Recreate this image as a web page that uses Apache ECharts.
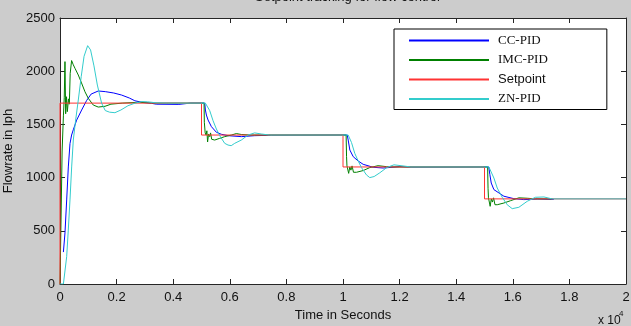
<!DOCTYPE html>
<html>
<head>
<meta charset="utf-8">
<script src="https://cdn.jsdelivr.net/npm/echarts@6/dist/echarts.min.js"></script>
<style>
  html, body { margin: 0; padding: 0; background: #cccccc; }
  #chart { width: 631px; height: 326px; }
</style>
</head>
<body>
<div id="chart"></div>
<script>
// time in seconds, flowrate in lph
const seriesNames = ['CC-PID', 'IMC-PID', 'Setpoint', 'ZN-PID'];
const seriesColors = ['#0000ff', '#008000', '#ff3333', '#33cccc'];

const ccPid = [
    [120, 300], [176, 480], [236, 790], [294, 1100], [353, 1320], [410, 1400], [470, 1450],
    [588, 1540], [765, 1635], [941, 1725], [1100, 1785], [1352, 1814], [1600, 1808],
    [1900, 1795], [2175, 1776], [2450, 1748], [2645, 1722], [2900, 1708], [3233, 1698],
    [3400, 1690], [4200, 1688], [4600, 1700], [5115, 1700],
    [5138, 1635], [5173, 1588], [5232, 1541], [5350, 1479], [5526, 1426], [5703, 1407],
    [5937, 1394], [6408, 1385], [6878, 1394], [7467, 1398], [10150, 1400],
    [10183, 1353], [10242, 1259], [10360, 1197], [10536, 1156], [10712, 1125], [11065, 1097],
    [11417, 1090], [12003, 1103], [12474, 1098], [15150, 1100],
    [15190, 1027], [15238, 949], [15332, 887], [15508, 856], [15685, 825], [16038, 802],
    [16390, 793], [16860, 799], [17450, 795]
];

const imcPid = [
    [0, 0], [70, 0], [75, 1250], [120, 1580], [150, 1750], [176, 2090], [200, 1600],
    [230, 1760], [260, 1620], [300, 1740], [330, 1690], [360, 1980], [410, 2100],
    [470, 2060], [530, 2027], [646, 1964], [760, 1890], [882, 1807], [1000, 1745],
    [1176, 1682], [1352, 1663], [1590, 1670], [1800, 1690], [2200, 1700], [2800, 1708],
    [3000, 1704], [3300, 1700], [5090, 1700],
    [5100, 1520], [5130, 1420], [5160, 1400], [5190, 1440], [5215, 1335], [5250, 1410],
    [5290, 1385], [5320, 1420], [5360, 1360], [5467, 1353], [5644, 1369], [5820, 1385],
    [6055, 1400], [6232, 1414], [6408, 1405], [6700, 1400], [10110, 1400],
    [10125, 1200], [10140, 1110], [10170, 1120], [10200, 1040], [10240, 1100], [10280, 1070],
    [10320, 1110], [10370, 1050], [10476, 1050], [10712, 1066], [10946, 1094], [11240, 1112],
    [11535, 1103], [11800, 1100], [15110, 1100],
    [15125, 900], [15140, 810], [15170, 820], [15200, 730], [15240, 800], [15280, 770],
    [15320, 810], [15370, 745], [15450, 745], [15685, 761], [15920, 783], [16214, 810],
    [16508, 806], [16800, 800], [17400, 800]
];

const setpoint = [
    [0, 0], [0, 1700], [5000, 1700], [5000, 1400], [10000, 1400], [10000, 1100],
    [15000, 1100], [15000, 800], [20000, 800]
];

const znPid = [
    [0, 0], [120, 0], [236, 257], [293, 507], [353, 790], [412, 1100], [470, 1353],
    [553, 1541], [646, 1729], [750, 1950], [850, 2140], [977, 2240], [1080, 2200],
    [1200, 2050], [1320, 1870], [1470, 1700], [1600, 1630], [1750, 1615], [1940, 1610],
    [2150, 1635], [2400, 1675], [2650, 1700], [2900, 1715], [3100, 1712], [3400, 1703],
    [3800, 1700], [5137, 1700],
    [5291, 1629], [5408, 1535], [5526, 1457], [5644, 1394], [5820, 1322], [5937, 1306],
    [6050, 1300], [6173, 1322], [6408, 1353], [6643, 1400], [6878, 1420], [7114, 1410],
    [7400, 1400], [10183, 1400],
    [10300, 1330], [10416, 1228], [10530, 1160], [10650, 1095], [10830, 1025], [10946, 1000],
    [11100, 1010], [11300, 1045], [11550, 1095], [11800, 1120], [12050, 1112], [12400, 1100],
    [15155, 1100],
    [15332, 996], [15450, 902], [15626, 815], [15802, 745], [15979, 708], [16214, 721],
    [16508, 777], [16800, 815], [17100, 818], [17390, 800], [20000, 800]
];

const xTicks = { min: 0, max: 20000, interval: 2000 };
const yTicks = { min: 0, max: 2500, interval: 500 };

const chart = echarts.init(document.getElementById('chart'));
const font = '"Liberation Sans", Arial, sans-serif';
const axisCol = '#262626';

const baseAxis = {
    type: 'value',
    axisLine: { show: true, onZero: false, lineStyle: { color: axisCol, width: 1 } },
    axisTick: { show: true, inside: true, length: 5, lineStyle: { color: axisCol } },
    splitLine: { show: false }
};

const option = {
    backgroundColor: '#cccccc',
    animation: false,
    title: {
        text: 'Setpoint tracking for flow control',
        left: 250, top: -14,
        textStyle: { fontFamily: font, fontSize: 13, fontWeight: 'normal', color: '#111' }
    },
    grid: {
        left: 60, right: 5, top: 18, bottom: 42,
        containLabel: false, outerBoundsMode: 'none',
        show: true, backgroundColor: '#ffffff', borderWidth: 0
    },
    legend: {
        data: seriesNames,
        orient: 'vertical',
        left: 394, top: 29,
        padding: [5, 59, 4, 15],
        backgroundColor: '#ffffff',
        borderColor: '#000', borderWidth: 1,
        itemWidth: 80, itemHeight: 2, itemGap: 6.5,
        icon: 'rect',
        formatter: name => name === 'Setpoint' ? '{s|' + name + '}' : '{t|' + name + '}',
        textStyle: {
            padding: [0, 0, 0, 4],
            rich: {
                t: { fontFamily: '"Liberation Serif", "Times New Roman", serif', fontSize: 13, color: '#111', lineHeight: 14 },
                s: { fontFamily: font, fontSize: 13, color: '#111', lineHeight: 14 }
            }
        }
    },
    xAxis: [
        Object.assign({}, baseAxis, xTicks, {
            position: 'bottom',
            name: 'Time in Seconds', nameLocation: 'middle', nameGap: 22,
            nameTextStyle: { fontFamily: font, fontSize: 13, color: '#111' },
            axisLabel: {
                margin: 7, fontFamily: font, fontSize: 13, color: '#111',
                formatter: v => String(parseFloat((v / 10000).toFixed(1)))
            }
        }),
        Object.assign({}, baseAxis, xTicks, { position: 'top', axisLabel: { show: false } })
    ],
    yAxis: [
        Object.assign({}, baseAxis, yTicks, {
            position: 'left',
            name: 'Flowrate in lph', nameLocation: 'middle', nameGap: 41, nameRotate: 90,
            nameTextStyle: { fontFamily: font, fontSize: 13, color: '#111' },
            axisLabel: { margin: 5, fontFamily: font, fontSize: 13, color: '#111', formatter: v => String(v) }
        }),
        Object.assign({}, baseAxis, yTicks, { position: 'right', axisLabel: { show: false } })
    ],
    graphic: [
        { type: 'text', left: 598, top: 315, style: { text: 'x 10', font: '12px ' + font, fill: '#111' } },
        { type: 'text', left: 619, top: 310, style: { text: '4', font: '8px ' + font, fill: '#111' } }
    ],
    series: [ccPid, imcPid, setpoint, znPid].map((d, i) => ({
        name: seriesNames[i],
        type: 'line',
        data: d,
        showSymbol: false,
        symbol: 'none',
        color: seriesColors[i],
        lineStyle: { width: 1, color: seriesColors[i] },
        z: 2 + i
    }))
};

chart.setOption(option);
</script>
</body>
</html>
